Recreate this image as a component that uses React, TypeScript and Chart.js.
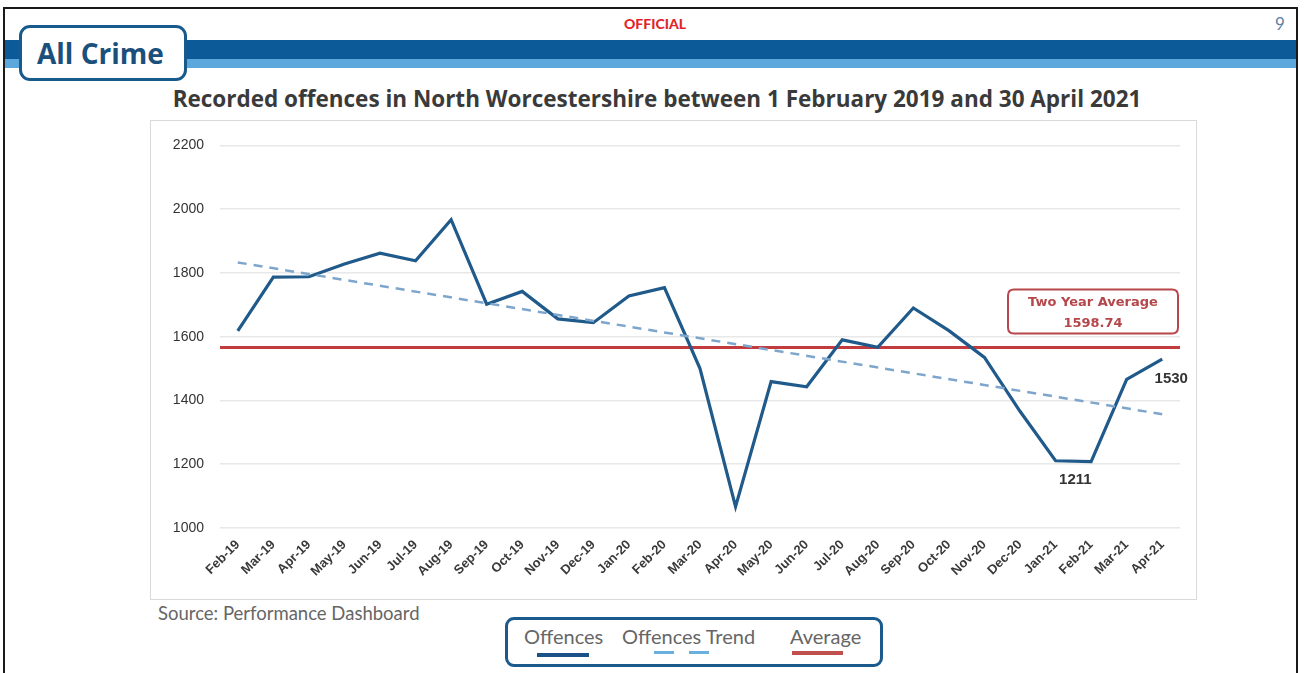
import React, { useEffect, useRef } from "react";
import { Chart, registerables } from "chart.js";

Chart.register(...registerables);

const months = [
  "Feb-19", "Mar-19", "Apr-19", "May-19", "Jun-19", "Jul-19", "Aug-19", "Sep-19", "Oct-19",
  "Nov-19", "Dec-19", "Jan-20", "Feb-20", "Mar-20", "Apr-20", "May-20", "Jun-20", "Jul-20",
  "Aug-20", "Sep-20", "Oct-20", "Nov-20", "Dec-20", "Jan-21", "Feb-21", "Mar-21", "Apr-21",
];
const offences = [
  1618, 1787, 1788, 1828, 1862, 1838, 1967, 1702, 1742,
  1656, 1644, 1728, 1754, 1500, 1067, 1459, 1443, 1590,
  1567, 1690, 1619, 1535, 1366, 1211, 1208, 1466, 1530,
];
const trendEnds = [1833, 1357];
const averageLevel = [1566];
const averageText = ["Two Year Average", "1598.74"];
const yTicks = [1000, 1200, 1400, 1600, 1800, 2000, 2200];
const lowLabel = "1211";
const lastLabel = "1530";

const BLUE = "#1f5a8b";
const TREND = "#7ea6cc";
const RED = "#c23b3e";

function roundRect(ctx: CanvasRenderingContext2D, x: number, y: number, w: number, h: number, r: number) {
  ctx.beginPath();
  ctx.moveTo(x + r, y);
  ctx.lineTo(x + w - r, y);
  ctx.quadraticCurveTo(x + w, y, x + w, y + r);
  ctx.lineTo(x + w, y + h - r);
  ctx.quadraticCurveTo(x + w, y + h, x + w - r, y + h);
  ctx.lineTo(x + r, y + h);
  ctx.quadraticCurveTo(x, y + h, x, y + h - r);
  ctx.lineTo(x, y + r);
  ctx.quadraticCurveTo(x, y, x + r, y);
  ctx.closePath();
}

const annotPlugin = {
  id: "annot",
  beforeDatasetsDraw(chart: any) {
    const { ctx, chartArea, scales } = chart;
    const py = scales.y.getPixelForValue(averageLevel[0]);
    ctx.save();
    ctx.strokeStyle = RED;
    ctx.lineWidth = 3;
    ctx.beginPath();
    ctx.moveTo(chartArea.left, py);
    ctx.lineTo(chartArea.right, py);
    ctx.stroke();
    ctx.restore();
  },
  afterDatasetsDraw(chart: any) {
    const { ctx, chartArea, scales } = chart;
    const x = scales.x;
    const y = scales.y;
    ctx.save();
    const py = y.getPixelForValue(averageLevel[0]);
    const bw = 170;
    const bh = 44;
    const bx = chartArea.right - 2 - bw;
    const by = py - 14 - bh;
    roundRect(ctx, bx, by, bw, bh, 6);
    ctx.fillStyle = "#ffffff";
    ctx.fill();
    ctx.strokeStyle = "#b8474b";
    ctx.lineWidth = 2;
    ctx.stroke();
    ctx.fillStyle = "#b5474b";
    ctx.font = "bold 13px 'DejaVu Sans'";
    ctx.textAlign = "center";
    ctx.textBaseline = "middle";
    ctx.fillText(averageText[0], bx + bw / 2, by + 13);
    ctx.fillText(averageText[1], bx + bw / 2, by + 34);
    ctx.fillStyle = "#333333";
    ctx.font = "bold 15px 'Liberation Sans'";
    const lx = (x.getPixelForValue(23) + x.getPixelForValue(24)) / 2;
    ctx.fillText(lowLabel, lx + 2, y.getPixelForValue(offences[23]) + 19);
    ctx.fillText(lastLabel, x.getPixelForValue(26) + 9, y.getPixelForValue(offences[26]) + 20);
    ctx.restore();
  },
};

function ChartBox() {
  const ref = useRef<HTMLCanvasElement | null>(null);
  useEffect(() => {
    if (!ref.current) return;
    const chart = new Chart(ref.current, {
      type: "line",
      data: {
        labels: months,
        datasets: [
          {
            label: "Offences Trend",
            data: [
              { x: months[0], y: trendEnds[0] },
              { x: months[months.length - 1], y: trendEnds[1] },
            ] as any,
            borderColor: TREND,
            borderWidth: 2.5,
            borderDash: [9, 7],
            pointRadius: 0,
            tension: 0,
          },
          {
            label: "Offences",
            data: offences,
            borderColor: BLUE,
            borderWidth: 3.2,
            pointRadius: 0,
            tension: 0,
          },
        ],
      },
      options: {
        responsive: false,
        animation: false,
        layout: { padding: { top: 18, right: 16, left: 0, bottom: 0 } },
        plugins: { legend: { display: false }, tooltip: { enabled: false } },
        scales: {
          x: {
            type: "category",
            offset: true,
            grid: { display: false, drawTicks: false },
            border: { display: false },
            ticks: {
              maxRotation: 45,
              minRotation: 45,
              autoSkip: false,
              padding: 9,
              color: "#3a3a3a",
              font: { family: "'Liberation Sans'", size: 13, weight: "bold" },
            },
            afterFit(scale: any) {
              scale.height = 71;
            },
          },
          y: {
            min: 1000,
            max: 2200,
            afterBuildTicks(scale: any) {
              scale.ticks = yTicks.map((v) => ({ value: v }));
            },
            grid: { color: "#e8e8e8", lineWidth: 1.5, drawTicks: false },
            border: { display: false },
            ticks: {
              padding: 16,
              color: "#333333",
              font: { family: "'Liberation Sans'", size: 14 },
              callback: (v: any) => String(v),
            },
            afterFit(scale: any) {
              scale.width = 69;
            },
          },
        },
      },
      plugins: [annotPlugin],
    });
    return () => chart.destroy();
  }, []);
  return <canvas ref={ref} width={1045} height={478} style={{ display: "block" }} />;
}

export default function App() {
  const abs = (s: React.CSSProperties): React.CSSProperties => ({ position: "absolute", ...s });
  return (
    <div style={abs({ left: 0, top: 0, width: 1304, height: 673, background: "#fff", overflow: "hidden", fontFamily: "'Liberation Sans', Arial, sans-serif" })}>
      <div style={abs({ left: 3, top: 7, width: 1291, height: 700, border: "2px solid #1a1a1a" })} />
      <div style={abs({ left: 5, top: 40, width: 1291, height: 19, background: "#0c5b98" })} />
      <div style={abs({ left: 5, top: 59, width: 1291, height: 9, background: "#5ca8dc" })} />
      <div style={abs({ left: 624, top: 15, fontFamily: "Lato", fontWeight: 900, fontSize: 14, color: "#e0262b", lineHeight: "18px" })}>OFFICIAL</div>
      <div style={abs({ left: 1275, top: 14, fontFamily: "Lato", fontSize: 17, color: "#5d82a8", lineHeight: "20px" })}>9</div>
      <div style={abs({ left: 19, top: 25, width: 168, height: 56, boxSizing: "border-box", border: "3px solid #175a8c", borderRadius: 11, background: "#fff" })} />
      <div style={abs({ left: 37, top: 34, fontFamily: "'Open Sans'", fontWeight: 700, fontSize: 28, color: "#1b4f7c", lineHeight: "38px" })}>All Crime</div>
      <div style={abs({ left: 0, width: 1314, top: 84, textAlign: "center", fontFamily: "'Open Sans'", fontWeight: 700, fontSize: 22.5, color: "#3a3a3a", lineHeight: "30px" })}>
        Recorded offences in North Worcestershire between 1 February 2019 and 30 April 2021
      </div>
      <div style={abs({ left: 150, top: 120, width: 1047, height: 480, boxSizing: "border-box", border: "1px solid #d9d9d9" })}>
        <ChartBox />
      </div>
      <div style={abs({ left: 158, top: 602, fontFamily: "Lato", fontSize: 18.5, color: "#666", lineHeight: "22px" })}>Source: Performance Dashboard</div>
      <div style={abs({ left: 505, top: 617, width: 378, height: 50, boxSizing: "border-box", border: "3px solid #1b5a8c", borderRadius: 9, background: "#fff" })} />
      <div style={abs({ left: 524, top: 624, fontFamily: "Lato", fontSize: 20, color: "#666", lineHeight: "24px" })}>Offences</div>
      <div style={abs({ left: 537, top: 653, width: 52, height: 4, background: "#1a5188" })} />
      <div style={abs({ left: 622, top: 624, fontFamily: "Lato", fontSize: 20, color: "#666", lineHeight: "24px" })}>Offences Trend</div>
      <div style={abs({ left: 654, top: 651, width: 20, height: 3, background: "#6ab0de" })} />
      <div style={abs({ left: 689, top: 651, width: 20, height: 3, background: "#6ab0de" })} />
      <div style={abs({ left: 790, top: 624, fontFamily: "Lato", fontSize: 20, color: "#666", lineHeight: "24px" })}>Average</div>
      <div style={abs({ left: 792, top: 651, width: 51, height: 4, background: "#c0504d" })} />
    </div>
  );
}
